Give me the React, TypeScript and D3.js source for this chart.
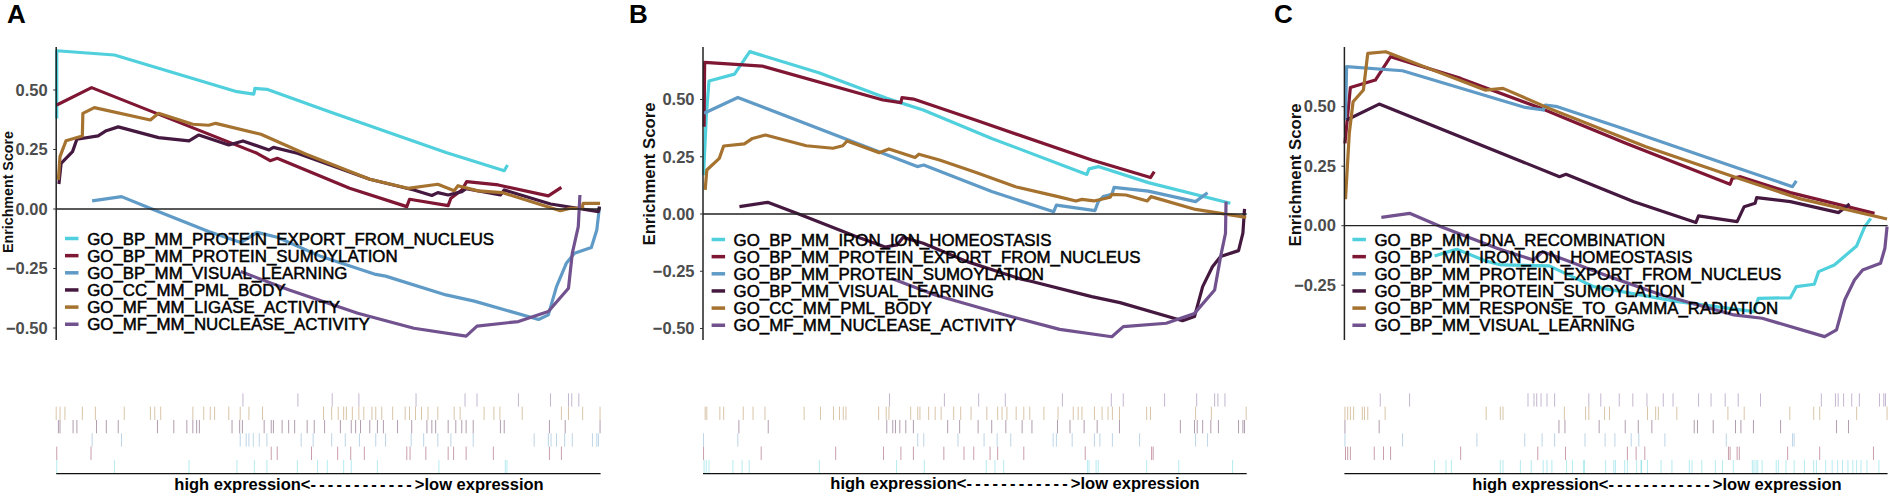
import React from "react";
import * as d3 from "d3";

type Pt = [number, number];

// Running enrichment curves: [rank %, enrichment score]
const exportA: Pt[] = [[0.1,.38],[0.1,.665],[10.7,.647],[33.2,.493],[36.3,.483],[36.5,.507],[38.7,.503],[50.2,.409],[71.6,.237],[82.3,.161],[82.9,.185]];
const sumoA: Pt[] = [[0.1,.437],[6.5,.51],[36.9,.234],[39.3,.203],[40.6,.213],[53.9,.087],[64.4,.01],[64.9,.041],[72,.014],[72.5,.045],[74.5,.08],[75.4,.115],[81.2,.101],[90.4,.055],[92.8,.091]];
const visualA: Pt[] = [[6.6,.034],[12,.052],[17.7,-.001],[28,-.095],[33.9,-.141],[36.9,-.098],[40.6,-.119],[48.7,-.2],[58.7,-.275],[60.5,-.282],[71.6,-.361],[76.8,-.387],[88.6,-.464],[90.4,-.445],[91.9,-.326],[93.7,-.228],[95.2,-.186],[98.3,-.162],[99.3,-.088],[99.8,.01]];
const pmlA: Pt[] = [[0.5,.105],[0.9,.192],[3,.241],[3.8,.293],[7.7,.307],[9.2,.329],[11.4,.345],[18.8,.3],[24.4,.286],[26.2,.311],[31.7,.269],[34.3,.286],[39.1,.248],[39.9,.259],[44.3,.234],[57.6,.125],[65.7,.08],[69,.057],[70.1,.069],[72,.059],[74.5,.073],[75.3,.085],[81.6,.059],[82.3,.08],[90.8,.021],[99.6,-.011],[99.8,.01]];
const ligaseA: Pt[] = [[0.4,.122],[0.7,.22],[1.8,.287],[4.8,.307],[4.9,.402],[7,.426],[17.3,.374],[18.8,.402],[25.1,.356],[28,.352],[29.3,.36],[37.6,.314],[45.8,.231],[57.6,.125],[64.6,.087],[70.1,.104],[73.1,.077],[73.8,.098],[77.5,.076],[81.9,.069],[92.6,-.007],[94.5,.003],[96.6,.003],[96.8,.024],[99.9,.024]];
const nucleaseA: Pt[] = [[33.9,-.263],[42.8,-.34],[55.4,-.438],[65.7,-.501],[75.3,-.534],[77.3,-.492],[84.9,-.473],[90.4,-.431],[94.1,-.333],[94.8,-.186],[95.9,-.074],[96.2,.059]];

const ironB: Pt[] = [[0.1,.17],[0.6,.425],[1.1,.581],[5.8,.611],[8.6,.709],[21.3,.617],[33.8,.505],[40.5,.454],[53.1,.33],[70.6,.173],[71,.197],[72.7,.207],[81.9,.137],[97,.047]];
const exportB: Pt[] = [[0.2,.381],[0.3,.662],[10.9,.646],[33.1,.498],[36.4,.486],[36.6,.508],[38.7,.502],[50.1,.41],[71.5,.236],[82.3,.159],[83,.185]];
const sumoB: Pt[] = [[0.2,.44],[6.4,.509],[39.4,.207],[40.6,.214],[53.1,.098],[64.5,.01],[65,.039],[72.1,.015],[72.7,.054],[73.6,.076],[75.2,.086],[75.6,.116],[81.9,.1],[90.6,.054],[92.8,.093]];
const visualB: Pt[] = [[6.7,.032],[11.9,.051],[17.6,0],[27.9,-.096],[33.5,-.144],[35.7,-.135],[36.8,-.102],[40.5,-.128],[48.6,-.208],[58.6,-.285],[60.5,-.295],[71.5,-.361],[76.7,-.387],[88.2,-.466],[90.4,-.448],[91.9,-.317],[93.7,-.23],[95.2,-.186],[98.5,-.16],[99.3,-.084],[99.6,.022]];
const pmlB: Pt[] = [[0.4,.105],[0.7,.192],[3,.243],[3.8,.297],[7.6,.306],[9.1,.33],[11.5,.345],[19,.298],[23.9,.287],[25.7,.298],[26.5,.319],[32.4,.268],[34.2,.284],[39,.247],[39.7,.261],[43.5,.236],[50.1,.182],[57.5,.119],[65.3,.076],[68.6,.057],[69.7,.064],[71.9,.057],[74.9,.073],[75.2,.086],[77.8,.083],[81.7,.057],[82.4,.076],[90.6,.02],[99.9,-.015]];
const nucleaseB: Pt[] = [[34.6,-.281],[42.7,-.354],[55.6,-.441],[65.6,-.504],[75.2,-.536],[77.3,-.492],[85.2,-.477],[90.4,-.434],[94.1,-.332],[95.2,-.186],[96.1,-.084],[96.2,.054]];

const dnaC: Pt[] = [[16.6,-.127],[19.2,-.109],[20.7,-.099],[25.9,-.147],[28.8,-.165],[37.7,-.169],[45.9,-.256],[61.4,-.319],[75.4,-.361],[76.2,-.305],[82.1,-.303],[83.2,-.256],[86.5,-.246],[87.3,-.193],[90.2,-.165],[94.3,-.085],[95.8,-.004],[96.9,.031]];
const ironC: Pt[] = [[0.1,.346],[1.1,.581],[5.7,.612],[8.5,.71],[21.4,.619],[36.2,.493],[41.4,.444],[51.8,.346],[71,.174],[71.4,.199],[72.9,.206],[82.1,.139],[97.6,.052]];
const exportC: Pt[] = [[0.2,.444],[0.4,.668],[10.7,.651],[33.3,.497],[36.6,.486],[37,.507],[39.2,.5],[50.3,.416],[71.7,.248],[82.5,.164],[83.2,.188]];
const sumoC: Pt[] = [[0.4,.444],[6.4,.511],[39.6,.206],[40.8,.216],[53.3,.101],[64.7,.013],[65.2,.041],[72.3,.017],[73.6,.08],[75.6,.094],[75.9,.118],[82.1,.101],[91,.055],[93,.091]];
const gammaC: Pt[] = [[0.2,.111],[0.9,.388],[1.6,.521],[3.5,.57],[4.3,.724],[7.6,.731],[15.5,.661],[25.9,.57],[29.2,.577],[37.7,.493],[55.5,.332],[71.7,.206],[83.6,.115],[99.9,.028]];
const visualC: Pt[] = [[6.8,.035],[12,.052],[17.8,-.004],[28.1,-.095],[34.8,-.144],[36.5,-.109],[40.7,-.144],[48.8,-.214],[58.4,-.291],[60.7,-.305],[71.7,-.375],[76.9,-.389],[88.4,-.466],[90.6,-.438],[92.1,-.312],[93.9,-.228],[95.4,-.186],[98.7,-.158],[99.5,-.095],[99.9,-.004]];

// Gene hit ranks (%), per gene set
const hitsExport = [0.1,10.7,24.4,33.2,36.4,38.7,44.3,48,49.8,52.8,54.2,59,70.3,82.5,82.8];
const hitsSumo = [0.1,6.4,39.5,40.6,46.9,51.7,54.1,56.6,64.4,65,67.9,72,73,75.3,80.3,90.6,92.8];
const hitsVisual = [6.6,12,33.8,34.9,35.4,36.2,37.3,38.7,45,47.2,50.6,53.1,55.7,58.7,60.5,65.2,67.5,70.1,72.5,76.6,87.8,90.4,90.9,91.9,93.4,94.8,98.5,99.3,99.6];
const hitsPml = [.4,.7,3.1,3.8,7.4,9.2,11.4,18.6,21.6,24,25.1,25.8,26.3,32.3,33.7,34.2,38.2,39.5,39.9,41.5,42.7,43.8,46.1,47.4,49.3,52.2,54.2,55,55.9,57.6,59,60.1,62.7,65.3,68.1,69,69.7,72,73.4,74.5,75.3,76.6,81.6,82.3,90.6,93.5,99.9];
const hitsLigase = [0,.7,1.6,4.8,7.2,12.5,17.3,18.1,19.2,25.1,27.1,28.3,29.1,31.7,33.8,35.4,37.9,49.1,50.6,51.8,52.8,53.3,54.4,55.6,56.5,58,58.7,59.8,61.8,64.1,64.9,66,67.1,68.3,70.1,73.1,74.2,78.6,80.4,81.5,85.6,92.8,94.1,96.7,99.9];
const hitsNuclease = [34.3,44.4,50.7,55.6,66.1,75.1,77.3,84.9,90.8,94.1,94.7,96];
const hitsIron = [0.2,.6,1.1,5.5,7.2,8.5,21.4,35.6,40.7,52.1,53.7,55.3,70.7,71,72.3,72.7,81.6,87.5,97.4];
const hitsGamma = [.1,.6,1.1,1.7,3.3,3.7,4.3,7.5,26.1,28.7,29.2,40.5,44.4,45,47.9,48.8,55.8,57.3,57.8,61.2,70.6,73.6,82,86.4,87.5,94.3,99.9];
const hitsDna = [16.6,18.7,19.7,28.7,29.2,32.4,34.4,36.6,37.3,38.2,40.9,42,44,44.2,48.1,49.6,49.9,51.6,52.1,53.8,54.6,54.7,55.8,58.3,60.3,63.5,64,65.8,68.3,69.6,71.6,75.1,75.4,75.8,76.1,76.9,79.5,79.9,81.3,82.8,84.7,86.4,86.9,88.6,89.8,90.8,91.7,92.7,93.6,94.3,95.1,96.2,98.4];

const colors = ["#4fd0dc", "#7f1734", "#5f9bc6", "#45193f", "#a5722f", "#71528f"];
const ticksMost = [-0.5, -0.25, 0, 0.25, 0.5];
const ticksC = [-0.25, 0, 0.25, 0.5];
const xLabelLeft = "high expression<";
const xLabelDashes = "------------";
const xLabelRight = ">low expression";
const yLabel = "Enrichment Score";

const panels = [
  {
    letter: "A", letterX: 7, x0: 56.2, x1: 600.6, yDomain: [-0.5, 0.5], yRange: [328, 90], ticks: ticksMost,
    keyX: 65, textX: 87.2, legendY: 238.5, ylabX: 13, ylabY: 192, ylabLen: 122, ylabSize: 14, bottomX: 359, bottomY: 490,
    names: ["GO_BP_MM_PROTEIN_EXPORT_FROM_NUCLEUS","GO_BP_MM_PROTEIN_SUMOYLATION","GO_BP_MM_VISUAL_LEARNING","GO_CC_MM_PML_BODY","GO_MF_MM_LIGASE_ACTIVITY","GO_MF_MM_NUCLEASE_ACTIVITY"],
    curves: [exportA, sumoA, visualA, pmlA, ligaseA, nucleaseA],
    hits: [hitsExport, hitsSumo, hitsVisual, hitsPml, hitsLigase, hitsNuclease],
  },
  {
    letter: "B", letterX: 629, x0: 703, x1: 1246.7, yDomain: [-0.5, 0.5], yRange: [328.5, 99.5], ticks: ticksMost,
    keyX: 711.6, textX: 733.6, legendY: 239.5, ylabX: 655, ylabY: 174, ylabLen: 143, ylabSize: 16, bottomX: 1015, bottomY: 488.5,
    names: ["GO_BP_MM_IRON_ION_HOMEOSTASIS","GO_BP_MM_PROTEIN_EXPORT_FROM_NUCLEUS","GO_BP_MM_PROTEIN_SUMOYLATION","GO_BP_MM_VISUAL_LEARNING","GO_CC_MM_PML_BODY","GO_MF_MM_NUCLEASE_ACTIVITY"],
    curves: [ironB, exportB, sumoB, visualB, pmlB, nucleaseB],
    hits: [hitsIron, hitsExport, hitsSumo, hitsVisual, hitsPml, hitsNuclease],
  },
  {
    letter: "C", letterX: 1274, x0: 1344.4, x1: 1887.6, yDomain: [-0.25, 0.5], yRange: [285.2, 106.7], ticks: ticksC,
    keyX: 1352.4, textX: 1374.5, legendY: 239.5, ylabX: 1301, ylabY: 175, ylabLen: 143, ylabSize: 16, bottomX: 1657, bottomY: 490,
    names: ["GO_BP_MM_DNA_RECOMBINATION","GO_BP_MM_IRON_ION_HOMEOSTASIS","GO_BP_MM_PROTEIN_EXPORT_FROM_NUCLEUS","GO_BP_MM_PROTEIN_SUMOYLATION","GO_BP_MM_RESPONSE_TO_GAMMA_RADIATION","GO_BP_MM_VISUAL_LEARNING"],
    curves: [dnaC, ironC, exportC, sumoC, gammaC, visualC],
    hits: [hitsDna, hitsIron, hitsExport, hitsSumo, hitsGamma, hitsVisual],
  },
];

const FONT = "'Liberation Sans', Arial, sans-serif";
const fmt = (v: number) => d3.format(".2f")(v).replace("-", "\u2212");

function Panel({ p }: { p: (typeof panels)[number] }) {
  const x = d3.scaleLinear().domain([0, 100]).range([p.x0, p.x1]);
  const y = d3.scaleLinear().domain(p.yDomain).range(p.yRange);
  const line = d3.line<Pt>().x((d) => x(d[0])).y((d) => y(d[1]));
  const rug = d3.scaleBand<number>().domain([5, 4, 3, 2, 1, 0]).range([393.3, 473.3]);
  return (
    <g>
      <text x={p.letterX} y={23} fontFamily={FONT} fontWeight={700} fontSize={26} fill="#000">{p.letter}</text>
      {p.curves.map((c, i) => (
        <path key={i} d={line(c) ?? ""} fill="none" stroke={colors[i]} strokeWidth={3.2} strokeLinejoin="round" />
      ))}
      <line x1={p.x0} x2={p.x1} y1={y(0)} y2={y(0)} stroke="#222" strokeWidth={1.3} />
      <line x1={p.x0} x2={p.x0} y1={47} y2={340} stroke="#222" strokeWidth={1.5} />
      {p.ticks.map((t) => (
        <g key={t}>
          <line x1={p.x0 - 3} x2={p.x0} y1={y(t)} y2={y(t)} stroke="#333" strokeWidth={1} />
          <text x={p.x0 - 8.5} y={y(t)} dy="0.35em" textAnchor="end" fontFamily={FONT} fontWeight={700} fontSize={16.5} fill="#4d4d4d">{fmt(t)}</text>
        </g>
      ))}
      <text transform={`translate(${p.ylabX},${p.ylabY}) rotate(-90)`} textAnchor="middle" fontFamily={FONT} fontWeight={700} fontSize={p.ylabSize} fill="#111" textLength={p.ylabLen} lengthAdjust="spacingAndGlyphs">{yLabel}</text>
      {p.hits.map((h, i) =>
        h.map((v, j) => (
          <line key={`${i}-${j}`} x1={x(v)} x2={x(v)} y1={rug(i)!} y2={rug(i)! + rug.bandwidth()} stroke={colors[i]} strokeWidth={1} strokeOpacity={0.42} />
        ))
      )}
      <line x1={p.x0} x2={p.x1} y1={473.7} y2={473.7} stroke="#111" strokeWidth={1.3} />
      <text x={p.bottomX} y={p.bottomY} textAnchor="middle" fontFamily={FONT} fontWeight={700} fontSize={16.5} fill="#000">
        {xLabelLeft}
        <tspan letterSpacing={3.2}>{xLabelDashes}</tspan>
        {xLabelRight}
      </text>
      {p.names.map((n, i) => (
        <g key={n}>
          <line x1={p.keyX} x2={p.keyX + 13.5} y1={p.legendY + i * 17.15} y2={p.legendY + i * 17.15} stroke={colors[i]} strokeWidth={3.5} />
          <text x={p.textX} y={p.legendY + i * 17.15} dy="0.36em" fontFamily={FONT} fontSize={16.85} fill="#000" stroke="#000" strokeWidth={0.5}>{n}</text>
        </g>
      ))}
    </g>
  );
}

export default function App() {
  return (
    <svg width={1890} height={496} style={{ position: "absolute", left: 0, top: 0, background: "#fff" }}>
      {panels.map((p) => (
        <Panel key={p.letter} p={p} />
      ))}
    </svg>
  );
}
